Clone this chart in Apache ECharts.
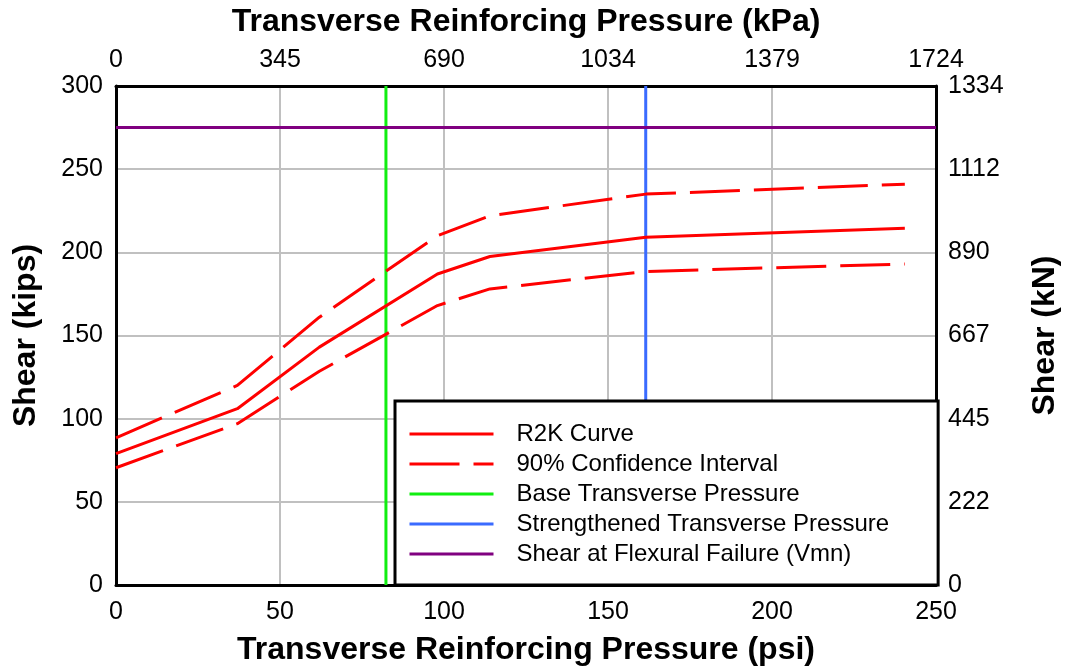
<!DOCTYPE html>
<html>
<head>
<meta charset="utf-8">
<script src="https://cdn.jsdelivr.net/npm/echarts@6/dist/echarts.min.js"></script>
<style>
  html, body { margin: 0; padding: 0; background: #fff; }
  #chart { width: 1065px; height: 669px; }
</style>
</head>
<body>
<div id="chart"></div>
<script>
// psi values where the curves were computed
const psi = [0, 37, 62, 98, 114, 161.5, 240.5]
const r2k = [79, 106, 143, 187, 197.5, 209, 214.5]
const ciUpper = [88.5, 120, 161, 210, 222, 235, 241]
const ciLower = [70.5, 97, 128.5, 168, 178, 188.5, 193]

const basePressure = 82.3
const strengthenedPressure = 161.5
const vmn = 275

// secondary axis labels (SI units)
const kpaLabels = ['0', '345', '690', '1034', '1379', '1724']
const knLabels = ['0', '222', '445', '667', '890', '1112', '1334']

const font = "'Liberation Sans', Arial, sans-serif"
const black = '#000'

function pairs (xs, ys) {
  return xs.map((x, i) => [x, ys[i]])
}

const chart = echarts.init(document.getElementById('chart'))

const axisLine = { show: true, onZero: false, lineStyle: { color: black, width: 3 } }
const tickLabel = { color: black, fontSize: 25, fontFamily: font }
const titleStyle = { color: black, fontSize: 32, fontWeight: 'bold', fontFamily: font }

const option = {
  animation: false,
  backgroundColor: '#fff',
  grid: { left: 116, right: 129, top: 86, bottom: 84, outerBoundsMode: 'none', containLabel: false },
  xAxis: [
    {
      type: 'value', position: 'bottom', min: 0, max: 250, interval: 50,
      axisLine, axisTick: { show: false },
      axisLabel: Object.assign({ margin: 15 }, tickLabel),
      splitLine: { show: true, lineStyle: { color: '#c0c0c0', width: 2 } },
      name: 'Transverse Reinforcing Pressure (psi)',
      nameLocation: 'middle', nameGap: 49, nameTextStyle: titleStyle
    },
    {
      type: 'value', position: 'top', min: 0, max: 250, interval: 50,
      axisLine, axisTick: { show: false },
      axisLabel: Object.assign({ margin: 13, formatter: v => kpaLabels[Math.round(v / 50)] }, tickLabel),
      splitLine: { show: false },
      name: 'Transverse Reinforcing Pressure (kPa)',
      nameLocation: 'middle', nameGap: 48, nameTextStyle: titleStyle
    }
  ],
  yAxis: [
    {
      type: 'value', position: 'left', min: 0, max: 300, interval: 50,
      axisLine, axisTick: { show: false },
      axisLabel: Object.assign({ margin: 13 }, tickLabel),
      splitLine: { show: true, lineStyle: { color: '#c0c0c0', width: 2 } },
      name: 'Shear (kips)', nameLocation: 'middle', nameRotate: 90, nameGap: 74,
      nameTextStyle: titleStyle
    },
    {
      type: 'value', position: 'right', min: 0, max: 300, interval: 50,
      axisLine, axisTick: { show: false },
      axisLabel: Object.assign({ margin: 12, formatter: v => knLabels[Math.round(v / 50)] }, tickLabel),
      splitLine: { show: false },
      name: 'Shear (kN)', nameLocation: 'middle', nameRotate: 90, nameGap: 93,
      nameTextStyle: titleStyle
    }
  ],
  legend: {
    orient: 'vertical',
    left: 395, top: 401, z: 10,
    backgroundColor: '#fff',
    borderColor: black, borderWidth: 3, borderRadius: 0,
    padding: [21, 49, 19, 13],
    itemWidth: 84, itemHeight: 20, itemGap: 6,
    itemStyle: { opacity: 0 },
    lineStyle: { width: 3 },
    textStyle: { color: black, fontSize: 24, fontFamily: font, padding: [0, 0, 0, 18] },
    data: ['R2K Curve', '90% Confidence Interval', 'Base Transverse Pressure',
      'Strengthened Transverse Pressure', 'Shear at Flexural Failure (Vmn)']
  },
  series: [
    {
      name: 'R2K Curve', type: 'line', symbol: 'none',
      lineStyle: { color: '#ff0000', width: 3 }, itemStyle: { color: '#ff0000' },
      data: pairs(psi, r2k), z: 5
    },
    {
      name: '90% Confidence Interval', type: 'line', symbol: 'none',
      lineStyle: { color: '#ff0000', width: 3, type: [50, 14] }, itemStyle: { color: '#ff0000' },
      data: pairs(psi, ciUpper), z: 5
    },
    {
      name: '90% Confidence Interval', type: 'line', symbol: 'none',
      lineStyle: { color: '#ff0000', width: 3, type: [50, 14] }, itemStyle: { color: '#ff0000' },
      data: pairs(psi, ciLower), z: 5
    },
    {
      name: 'Base Transverse Pressure', type: 'line', symbol: 'none',
      lineStyle: { color: '#11ee11', width: 3 }, itemStyle: { color: '#11ee11' },
      data: [[basePressure, 0], [basePressure, 300]], z: 4
    },
    {
      name: 'Strengthened Transverse Pressure', type: 'line', symbol: 'none',
      lineStyle: { color: '#3a6bff', width: 3 }, itemStyle: { color: '#3a6bff' },
      data: [[strengthenedPressure, 0], [strengthenedPressure, 300]], z: 4
    },
    {
      name: 'Shear at Flexural Failure (Vmn)', type: 'line', symbol: 'none',
      lineStyle: { color: '#800080', width: 3 }, itemStyle: { color: '#800080' },
      data: [[0, vmn], [250, vmn]], z: 4
    }
  ]
}

chart.setOption(option)
</script>
</body>
</html>
